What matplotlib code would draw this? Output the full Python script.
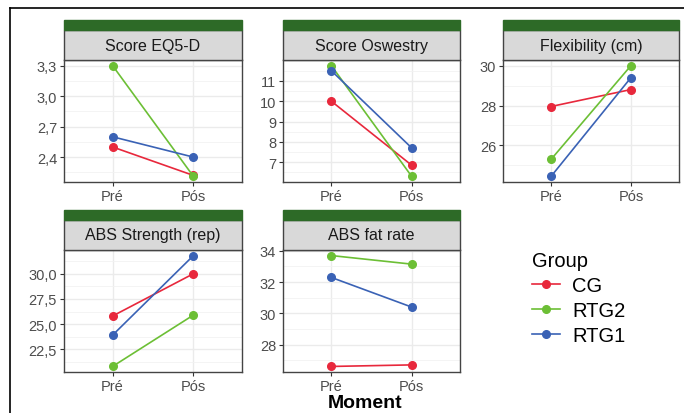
import numpy as np
import matplotlib
matplotlib.use("Agg")
import matplotlib.pyplot as plt
from matplotlib.patches import Rectangle
from matplotlib.lines import Line2D
from matplotlib.ticker import FixedLocator, AutoMinorLocator, FuncFormatter

plt.rcParams['font.family'] = ['Liberation Sans', 'DejaVu Sans']

# donnees
moments = ["Pré", "Pós"]
groups = ["CG", "RTG2", "RTG1"]
colors = ["#E8283C", "#6CBF35", "#3A62B5"]

titles = ["Score EQ5-D", "Score Oswestry", "Flexibility (cm)",
          "ABS Strength (rep)", "ABS fat rate"]

# une liste [Pré, Pós] par groupe (CG, RTG2, RTG1)
eq5d = [[2.50, 2.22], [3.30, 2.21], [2.60, 2.40]]
oswestry = [[10.0, 6.85], [11.75, 6.3], [11.5, 7.7]]
flexibility = [[27.95, 28.8], [25.3, 30.0], [24.45, 29.4]]
abs_strength = [[25.8, 30.0], [20.8, 25.9], [23.9, 31.8]]
abs_fat = [[26.6, 26.7], [33.7, 33.15], [32.3, 30.4]]

yticks_eq5d = [2.4, 2.7, 3.0, 3.3]
yticks_osw = [7, 8, 9, 10, 11]
yticks_flex = [26, 28, 30]
yticks_str = [22.5, 25.0, 27.5, 30.0]
yticks_fat = [28, 30, 32, 34]

panels = [eq5d, oswestry, flexibility, abs_strength, abs_fat]
ticks = [yticks_eq5d, yticks_osw, yticks_flex, yticks_str, yticks_fat]
decimals = [1, 0, 0, 1, 0]

W, H = 684, 414
fig = plt.figure(figsize=(W / 100, H / 100), dpi=100)

# positions en pixels (gauche, droite) / (haut, bas)
cols = [(64, 242), (283, 460), (503, 679)]
rows = [(61, 183), (251, 373)]
strip_h = 40
green_h = 10

def fx(px):
    return px / W

def fy(py):
    return 1 - py / H

for k, (data, yt, dec, title) in enumerate(zip(panels, ticks, decimals, titles)):
    r, c = divmod(k, 3)
    x0, x1 = cols[c]
    y0, y1 = rows[r]
    ax = fig.add_axes([fx(x0), fy(y1), fx(x1) - fx(x0), fy(y0) - fy(y1)])
    allv = np.array(data).ravel()
    lo, hi = allv.min(), allv.max()
    pad = 0.05 * (hi - lo)
    ax.set_ylim(lo - pad, hi + pad)
    ax.set_xlim(-0.6, 1.6)
    for g in range(len(groups)):
        ax.plot([0, 1], data[g], color=colors[g], lw=1.2, marker="o",
                ms=5.5, zorder=3)
    ax.set_xticks([0, 1])
    ax.set_xticklabels(moments)
    ax.yaxis.set_major_locator(FixedLocator(yt))
    ax.yaxis.set_minor_locator(AutoMinorLocator(2))
    ax.xaxis.set_minor_locator(FixedLocator([]))
    ax.yaxis.set_major_formatter(
        FuncFormatter(lambda v, p, d=dec: f"{v:.{d}f}".replace(".", ",")))
    ax.grid(which="major", color="#EBEBEB", lw=1.0)
    ax.grid(which="minor", axis="y", color="#F2F2F2", lw=0.6)
    ax.set_axisbelow(True)
    for s in ax.spines.values():
        s.set_color("#444444")
        s.set_linewidth(1.0)
    ax.tick_params(axis="both", which="major", length=3, width=0.8,
                   color="#333333", labelcolor="#4D4D4D", labelsize=10.5, pad=2)
    ax.tick_params(axis="both", which="minor", length=0)

    # bandeau du titre (gris + vert)
    fig.add_artist(Rectangle((fx(x0), fy(y0)), fx(x1) - fx(x0),
                             fy(y0 - strip_h + green_h) - fy(y0),
                             facecolor="#D9D9D9", edgecolor="#444444", lw=1.0))
    fig.add_artist(Rectangle((fx(x0), fy(y0 - strip_h + green_h)), fx(x1) - fx(x0),
                             fy(y0 - strip_h) - fy(y0 - strip_h + green_h),
                             facecolor="#2D6A27", edgecolor="#2D6A27", lw=1.0))
    fig.text((fx(x0) + fx(x1)) / 2, fy(y0 - (strip_h - green_h) / 2), title,
             ha="center", va="center", fontsize=11.5, color="#1A1A1A")

fig.text(fx(365), fy(404), "Moment", ha="center", va="center",
         fontsize=14, fontweight="bold")

handles = [Line2D([0], [0], color=colors[g], lw=1.2, marker="o", ms=5.5)
           for g in range(len(groups))]
leg = fig.legend(handles, groups, title="Group", loc="upper left",
                 bbox_to_anchor=(fx(514), fy(234)), frameon=False,
                 fontsize=14.5, title_fontsize=14.5, handlelength=1.4,
                 labelspacing=0.3, handletextpad=0.6)
leg._legend_box.align = "left"

# cadre exterieur (gauche et haut)
fig.add_artist(Line2D([fx(10), fx(10)], [fy(9), 0], color="black", lw=1.2))
fig.add_artist(Line2D([fx(10), 1], [fy(9), fy(9)], color="black", lw=1.2))

fig.savefig("out.png", dpi=100)
